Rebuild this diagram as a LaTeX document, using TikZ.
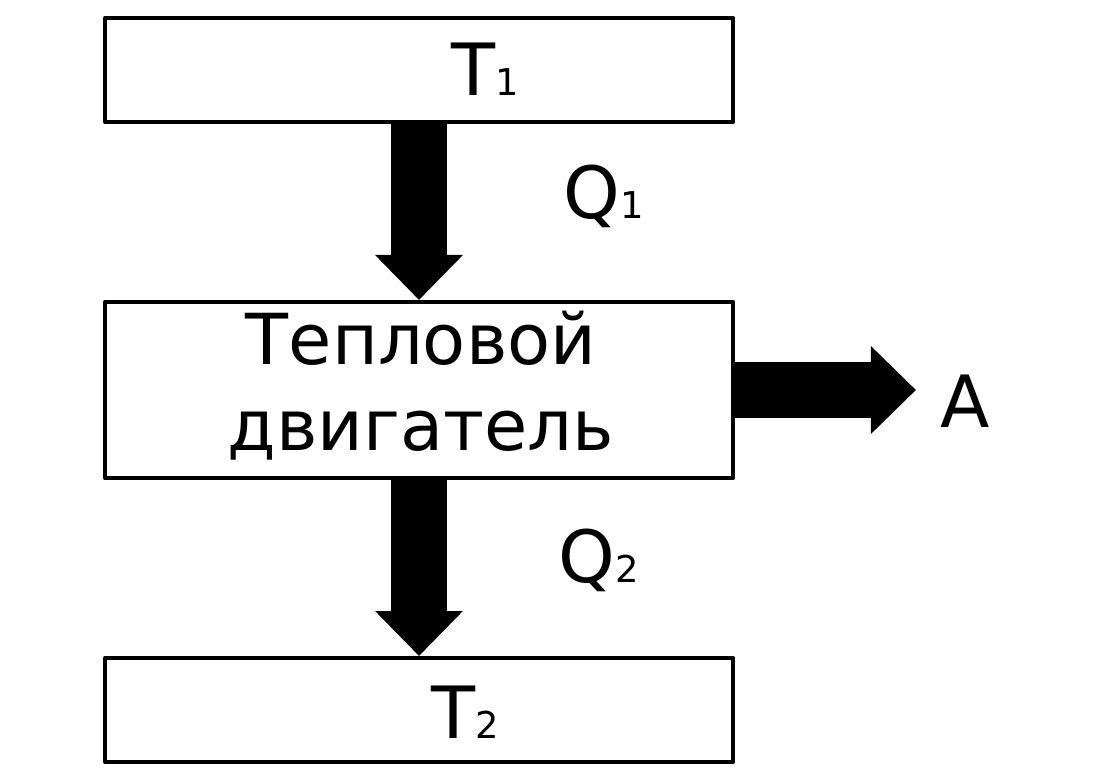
\documentclass[tikz,border=0pt]{standalone}
\usepackage{fontspec}
\setmainfont{DejaVu Sans}
\usetikzlibrary{arrows.meta}
\newcommand{\chiso}[1]{{\fontsize{10.5}{12}\selectfont #1}}
\begin{document}
\begin{tikzpicture}[x=0.01cm, y=-0.01cm, line join=round, line cap=round,
	hop/.style={draw, line width=1.1pt, minimum width=6.28cm, inner sep=0pt},
	nhan/.style={font=\fontsize{20.5}{24.2}\selectfont, inner sep=0pt, anchor=base},
	dong/.style={line width=0.55cm, line cap=butt, -{Triangle[length=0.45cm, width=0.85cm]}}]
	\useasboundingbox (0,0) rectangle (1096,781);
	\node[hop, minimum height=1.04cm] (nong) at (419,70) {};
	\node[hop, minimum height=1.76cm] (dongco) at (419,390) {};
	\node[hop, minimum height=1.04cm] (lanh) at (419,710) {};
	\coordinate (cong) at (916,390);
	
	% Vẽ các mũi tên
	\draw[dong] (nong) -- (dongco);
	\draw[dong] (dongco) -- (lanh);
	\draw[dong] (dongco) -- (cong);
	
	% Gán nhãn
	\node[nhan, align=center, font=\fontsize{20}{24.2}\selectfont] (tendc) at (421,450) {Тепловой\\двигатель};
	\foreach \p/\x/\y/\lab in {
		tnong/485/95/T\chiso{1}, qnong/604/218/Q\chiso{1},
		qlanh/599/582/Q\chiso{2}, tlanh/465/738/T\chiso{2},
		a/965/427/A
	} \node[nhan] (\p) at (\x,\y) {\lab};
\end{tikzpicture}
\end{document}
